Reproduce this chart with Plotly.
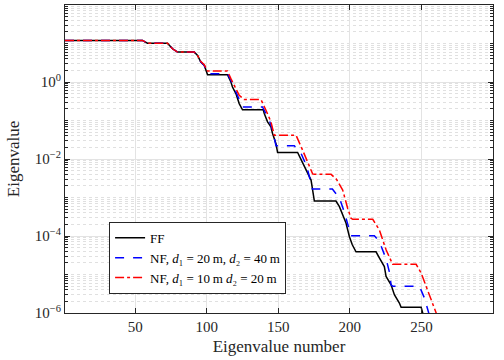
import plotly.graph_objects as go

# ---- data ----
ff_n = [1, 55.1, 58.6, 72.6, 76.1, 79.6, 91.3, 93.6, 95.9, 98.3, 100.6, 114.5, 116.9, 118, 120.4,
        122.7, 125, 139.5, 140.2, 142.5, 144.9, 146, 148.4, 149.5, 163.5, 169.4, 172.9, 175.2, 190.3,
        192.7, 197.3, 199.7, 201.7, 204.3, 218.3, 220.6, 224.1, 225.3, 228.8, 231.1, 234.6, 235.8,
        249.8, 250.9, 253]
ff_v = [12.0, 12.0, 10.2, 10.2, 7.3, 6.0, 6.0, 4.9, 3.3, 2.7, 1.55, 1.55, 1.0, 0.74, 0.50,
        0.275, 0.19, 0.19, 0.152, 0.092, 0.068, 0.046, 0.025, 0.0148, 0.0148, 0.00516, 0.00284, 8.1e-4, 8.1e-4,
        5.8e-4, 2.18e-4, 9.6e-5, 5.9e-5, 3.87e-5, 3.87e-5, 2.71e-5, 1.61e-5, 8.9e-6, 5.4e-6, 2.98e-6, 1.82e-6, 1.40e-6,
        1.40e-6, 1.0e-6, 5e-7]

nf1_n = [1, 55.1, 58.6, 72.6, 76.1, 79.6, 91.3, 93.6, 95.9, 98.3, 100.6, 114.5, 116.9, 120.4, 122.7,
         125, 139, 140.9, 143.7, 146, 148.4, 161.2, 165.9, 169.4, 170.5, 172.9, 173.8, 187.8, 192.7,
         196.2, 198.5, 200.8, 217.1, 220.6, 225.3, 227.6, 228.8, 230, 248.6, 252.1, 255.1, 257]
nf1_v = [12.0, 12.0, 10.2, 10.2, 7.3, 6.0, 6.0, 4.9, 3.3, 2.7, 1.65, 1.65, 1.1, 0.57, 0.336,
         0.225, 0.225, 0.167, 0.102, 0.056, 0.022, 0.022, 0.014, 0.0070, 0.0052, 0.00233, 0.00166, 0.00166, 9.7e-4,
         4.1e-4, 2.06e-4, 1.02e-4, 1.02e-4, 7.2e-5, 2.55e-5, 1.17e-5, 5.4e-6, 4.95e-6, 4.95e-6, 2.45e-6, 1.0e-6, 5e-7]

nf2_n = [1, 55.1, 58.6, 72.6, 76.1, 79.6, 91.3, 93.6, 95.9, 98.3, 100.6, 114.5, 116.9, 120.4, 122.7,
         126.2, 137.9, 141.4, 144.9, 147.2, 162.4, 167, 170.5, 174, 175.2, 186.9, 190.6, 195, 198.5,
         200.8, 202, 216, 220.6, 225.3, 229.9, 246.3, 249.8, 253.3, 256.8, 260.3, 262]
nf2_v = [12.0, 12.0, 10.2, 10.2, 7.3, 6.0, 6.0, 4.9, 3.4, 2.8, 1.93, 1.93, 1.22, 0.675, 0.45,
         0.35, 0.35, 0.185, 0.092, 0.0416, 0.0416, 0.017, 0.0081, 0.0041, 0.0040, 0.0040, 0.003, 0.00156, 5.2e-4,
         2.9e-4, 2.72e-4, 2.72e-4, 1.44e-4, 4.4e-5, 1.84e-5, 1.84e-5, 1.09e-5, 4.9e-6, 2.2e-6, 1.0e-6, 5e-7]

x_ticks = [50, 100, 150, 200, 250, 300]
y_ticks = [1e-6, 1e-4, 1e-2, 1]
y_ticktext = ["10<sup>−6</sup>", "10<sup>−4</sup>", "10<sup>−2</sup>", "10<sup>0</sup>"]

names = ["FF",
         "NF, <i>d</i>\u2081 = 20\u2009m, <i>d</i>\u2082 = 40\u2009m",
         "NF, <i>d</i>\u2081 = 10\u2009m <i>d</i>\u2082 = 20\u2009m"]

FONT = "Liberation Serif"
AX = "#262626"

fig = go.Figure()
fig.add_trace(go.Scatter(x=ff_n, y=ff_v, mode="lines", name=names[0],
                         line=dict(color="black", width=1.5)))
fig.add_trace(go.Scatter(x=nf1_n, y=nf1_v, mode="lines", name=names[1],
                         line=dict(color="#0000ff", width=1.5, dash="dash")))
fig.add_trace(go.Scatter(x=nf2_n, y=nf2_v, mode="lines", name=names[2],
                         line=dict(color="#ff0000", width=1.5, dash="dashdot")))

minor_vals = [m * 10.0 ** e for e in range(-6, 2) for m in range(1, 10) if not (m == 1 and e % 2 == 0)]

fig.update_xaxes(range=[1, 300], tickvals=x_ticks, ticks="inside", ticklen=5, tickcolor=AX,
                 showline=True, linecolor=AX, linewidth=1, mirror="allticks",
                 showgrid=True, gridcolor="#e3e3e3", gridwidth=1, zeroline=False,
                 tickfont=dict(family=FONT, size=15, color=AX),
                 title=dict(text="Eigenvalue number", font=dict(family=FONT, size=17, color=AX), standoff=6))
fig.update_yaxes(type="log", range=[-6, 2], tickvals=y_ticks, ticktext=y_ticktext,
                 ticks="inside", ticklen=5, tickcolor=AX,
                 showline=True, linecolor=AX, linewidth=1, mirror="allticks",
                 showgrid=True, gridcolor="#e3e3e3", gridwidth=1, zeroline=False,
                 minor=dict(tickvals=minor_vals, ticks="inside", ticklen=3, tickcolor=AX,
                            showgrid=True, gridcolor="#e0e0e0", griddash="dot", gridwidth=1),
                 tickfont=dict(family=FONT, size=15, color=AX),
                 title=dict(text="Eigenvalue", font=dict(family=FONT, size=17, color=AX), standoff=10))

fig.update_layout(
    width=504, height=360,
    margin=dict(l=65, r=11, t=5, b=47),
    paper_bgcolor="white", plot_bgcolor="white",
    showlegend=True,
    legend=dict(x=0.103, y=0.296, xanchor="left", yanchor="top",
                bgcolor="white", bordercolor=AX, borderwidth=1,
                font=dict(family=FONT, size=13, color="black"),
                itemwidth=30, tracegroupgap=0),
)

fig.write_html("out.html")
